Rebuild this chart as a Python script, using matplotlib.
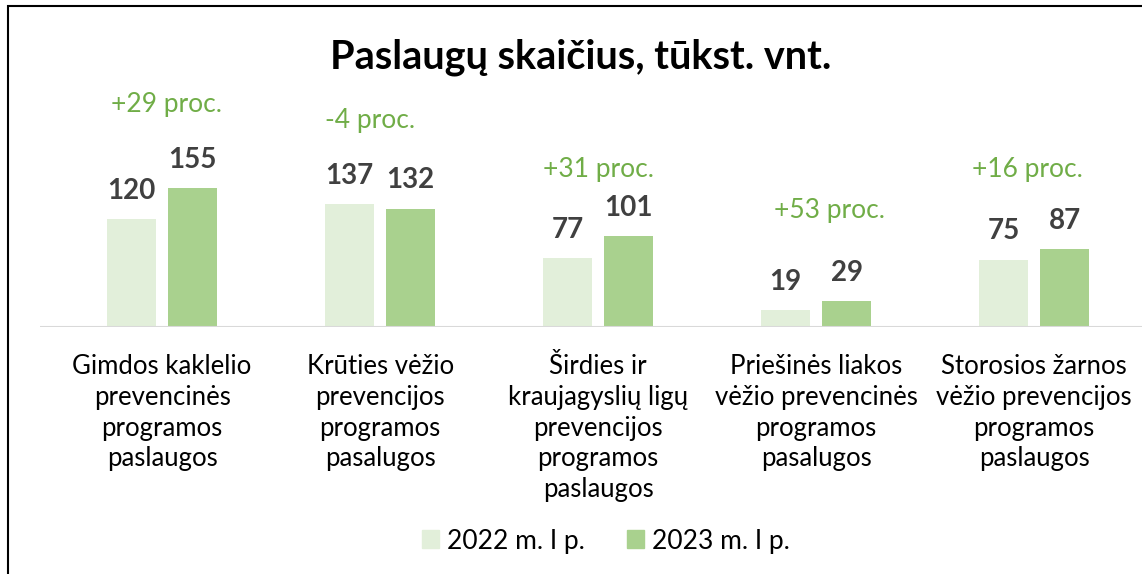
import numpy as np
import matplotlib
matplotlib.use("Agg")
from matplotlib import pyplot as plt
from matplotlib.patches import Rectangle, Patch

plt.rcParams['font.family'] = ['Lato', 'DejaVu Sans']

# data
categories = ['Gimdos kaklelio\nprevencinės\nprogramos\npaslaugos',
              'Krūties vėžio\nprevencijos\nprogramos\npasalugos',
              'Širdies ir\nkraujagyslių ligų\nprevencijos\nprogramos\npaslaugos',
              'Priešinės liakos\nvėžio prevencinės\nprogramos\npasalugos',
              'Storosios žarnos\nvėžio prevencijos\nprogramos\npaslaugos']
v2022 = [120, 137, 77, 19, 75]
v2023 = [155, 132, 101, 29, 87]
changes = ['+29 proc.', '-4 proc.', '+31 proc.', '+53 proc.', '+16 proc.']
series = ['2022 m. I p.', '2023 m. I p.']

# layout of the change labels (offsets in points from top of the taller bar)
chg_dx = [3, -7, 0, 10, -5]
chg_dy = [60, 60, 48, 65, 57]

c_light = '#E2EFDA'
c_dark = '#A9D18E'
c_green = '#70AD47'
c_num = '#404040'

fig = plt.figure(figsize=(11.42, 5.74), dpi=100)
W, H = 1142, 574
ax = fig.add_axes([40 / W, 1 - 327 / H, (1142 - 40) / W, 161.5 / H])

x = np.arange(len(categories))
bw = 0.225
off = 0.14
b1 = ax.bar(x - off, v2022, bw, color=c_light, label=series[0])
b2 = ax.bar(x + off, v2023, bw, color=c_dark, label=series[1])

ax.set_xlim(-0.56, 4.495)
ax.set_ylim(0, 180)

for bars in (b1, b2):
    for r in bars:
        ax.annotate(f'{r.get_height():.0f}', (r.get_x() + r.get_width() / 2, r.get_height()),
                    xytext=(0, 11), textcoords='offset points', ha='center', va='bottom',
                    fontsize=20, fontweight='bold', color=c_num, annotation_clip=False)

for i, t in enumerate(changes):
    top = max(v2022[i], v2023[i])
    ax.annotate(t, (x[i], top), xytext=(chg_dx[i], chg_dy[i]), textcoords='offset points',
                ha='center', va='center', fontsize=19, color=c_green, annotation_clip=False)

for s in ax.spines.values():
    s.set_visible(False)
ax.axhline(0, color='#D9D9D9', lw=1.5)
ax.set_yticks([])
ax.set_xticks(x)
ax.set_xticklabels(categories, fontsize=18.5, color='black', linespacing=1.29)
ax.tick_params(axis='x', length=0, pad=19.5)

fig.text(581 / W, 1 - 57 / H, 'Paslaugų skaičius, tūkst. vnt.', ha='center', va='center',
         fontsize=28.5, fontweight='bold', color='black')

fig.legend(handles=[Patch(color=c_light), Patch(color=c_dark)], labels=series,
           loc='center', bbox_to_anchor=(606 / W, 1 - 541 / H), ncol=2, frameon=False,
           fontsize=19, handlelength=0.65, handleheight=0.65, handletextpad=0.3,
           columnspacing=1.6)

fig.patches.append(Rectangle((8 / W, -0.1), 2, (H - 6) / H + 0.1, transform=fig.transFigure,
                             fill=False, edgecolor='black', lw=1.5))

fig.savefig('out.png', dpi=100)
